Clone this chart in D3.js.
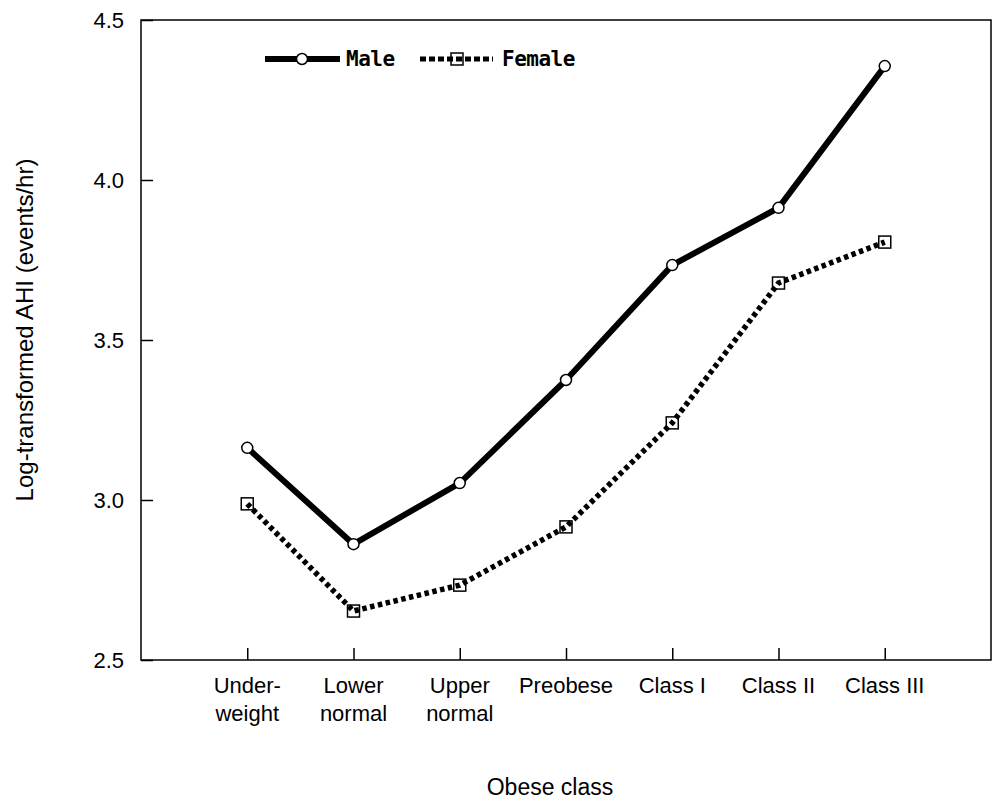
<!DOCTYPE html>
<html>
<head>
<meta charset="utf-8">
<script src="https://cdn.jsdelivr.net/npm/d3@7"></script>
<style>
  body { margin: 0; background: #fff; }
  text { font-family: "Liberation Sans", Arial, sans-serif; fill: #000; }
</style>
</head>
<body>
<div id="chart"></div>
<script>
// Data
const categories = ['Underweight', 'Lower normal', 'Upper normal', 'Preobese', 'Class I', 'Class II', 'Class III'];
const categoryLabels = [['Under-', 'weight'], ['Lower', 'normal'], ['Upper', 'normal'], ['Preobese'], ['Class I'], ['Class II'], ['Class III']];
const maleValues = [3.163, 2.862, 3.053, 3.375, 3.734, 3.913, 4.356];
const femaleValues = [2.988, 2.653, 2.734, 2.916, 3.241, 3.678, 3.806];
const yTicks = [2.5, 3.0, 3.5, 4.0, 4.5];

const width = 992, height = 799;
const margin = { top: 20, right: 1, bottom: 139, left: 141 };

const svg = d3.select('#chart')
    .append('svg')
    .attr('width', width)
    .attr('height', height);

const x = d3.scalePoint()
    .domain(categories)
    .range([margin.left, width - margin.right])
    .padding(1);

const y = d3.scaleLinear()
    .domain([2.5, 4.5])
    .range([height - margin.bottom, margin.top]);

// frame
svg.append('rect')
    .attr('x', margin.left)
    .attr('y', margin.top)
    .attr('width', width - margin.right - margin.left)
    .attr('height', height - margin.bottom - margin.top)
    .attr('fill', 'none')
    .attr('stroke', '#000')
    .attr('stroke-width', 1.5);

// y axis, ticks point inward
const yAxis = svg.append('g')
    .attr('transform', 'translate(' + margin.left + ',0)')
    .call(d3.axisRight(y).tickValues(yTicks).tickSize(12).tickFormat(d3.format('.1f')));
yAxis.select('.domain').remove();
yAxis.selectAll('line').attr('stroke-width', 1.5);
yAxis.selectAll('text')
    .attr('x', -17)
    .attr('text-anchor', 'end')
    .attr('dy', '0.36em')
    .style('font-size', '22px');

// x axis, ticks point inward
const xAxis = svg.append('g')
    .attr('transform', 'translate(0,' + (height - margin.bottom) + ')')
    .call(d3.axisTop(x).tickSize(12).tickFormat(''));
xAxis.select('.domain').remove();
xAxis.selectAll('line').attr('stroke-width', 1.5);

// category labels, one or two lines
svg.append('g')
    .selectAll('text')
    .data(categories)
    .enter()
    .append('text')
    .attr('text-anchor', 'middle')
    .style('font-size', '22px')
    .each(function (d, i) {
        const t = d3.select(this);
        categoryLabels[i].forEach((line, j) => {
            t.append('tspan')
                .attr('x', x(d))
                .attr('y', 693 + j * 28)
                .text(line);
        });
    });

// axis titles
svg.append('text')
    .attr('x', 550)
    .attr('y', 795)
    .attr('text-anchor', 'middle')
    .style('font-size', '23px')
    .text('Obese class');

svg.append('text')
    .attr('transform', 'translate(33,330) rotate(-90)')
    .attr('text-anchor', 'middle')
    .style('font-size', '24px')
    .text('Log-transformed AHI (events/hr)');

const line = d3.line()
    .x((d, i) => x(categories[i]))
    .y(d => y(d));

// female: dotted
svg.append('path')
    .datum(femaleValues)
    .attr('d', line)
    .attr('fill', 'none')
    .attr('stroke', '#000')
    .attr('stroke-width', 5.5)
    .attr('stroke-dasharray', '4.5,3.5');

svg.selectAll('.fmark')
    .data(femaleValues)
    .enter()
    .append('rect')
    .attr('class', 'fmark')
    .attr('x', (d, i) => x(categories[i]) - 6)
    .attr('y', d => y(d) - 6)
    .attr('width', 12)
    .attr('height', 12)
    .attr('fill', 'none')
    .attr('stroke', '#000')
    .attr('stroke-width', 1.5);

// male: thick solid
svg.append('path')
    .datum(maleValues)
    .attr('d', line)
    .attr('fill', 'none')
    .attr('stroke', '#000')
    .attr('stroke-width', 6)
    .attr('stroke-linejoin', 'round');

svg.selectAll('.mmark')
    .data(maleValues)
    .enter()
    .append('circle')
    .attr('class', 'mmark')
    .attr('cx', (d, i) => x(categories[i]))
    .attr('cy', d => y(d))
    .attr('r', 5.5)
    .attr('fill', '#fff')
    .attr('stroke', '#000')
    .attr('stroke-width', 1.5);

// legend
const legend = svg.append('g');
legend.append('line')
    .attr('x1', 265).attr('x2', 340)
    .attr('y1', 59).attr('y2', 59)
    .attr('stroke', '#000')
    .attr('stroke-width', 6);
legend.append('circle')
    .attr('cx', 302).attr('cy', 59).attr('r', 5.5)
    .attr('fill', '#fff')
    .attr('stroke', '#000')
    .attr('stroke-width', 1.5);
legend.append('text')
    .attr('x', 346).attr('y', 66)
    .style('font-family', '"DejaVu Sans Mono", monospace')
    .style('font-weight', 'bold')
    .style('font-size', '21px')
    .style('letter-spacing', '-0.5px')
    .text('Male');

legend.append('line')
    .attr('x1', 420).attr('x2', 493)
    .attr('y1', 59).attr('y2', 59)
    .attr('stroke', '#000')
    .attr('stroke-width', 5)
    .attr('stroke-dasharray', '6,3');
legend.append('rect')
    .attr('x', 451).attr('y', 53)
    .attr('width', 12).attr('height', 12)
    .attr('fill', 'none')
    .attr('stroke', '#000')
    .attr('stroke-width', 1.5);
legend.append('text')
    .attr('x', 502).attr('y', 66)
    .style('font-family', '"DejaVu Sans Mono", monospace')
    .style('font-weight', 'bold')
    .style('font-size', '21px')
    .style('letter-spacing', '-0.5px')
    .text('Female');
</script>
</body>
</html>
